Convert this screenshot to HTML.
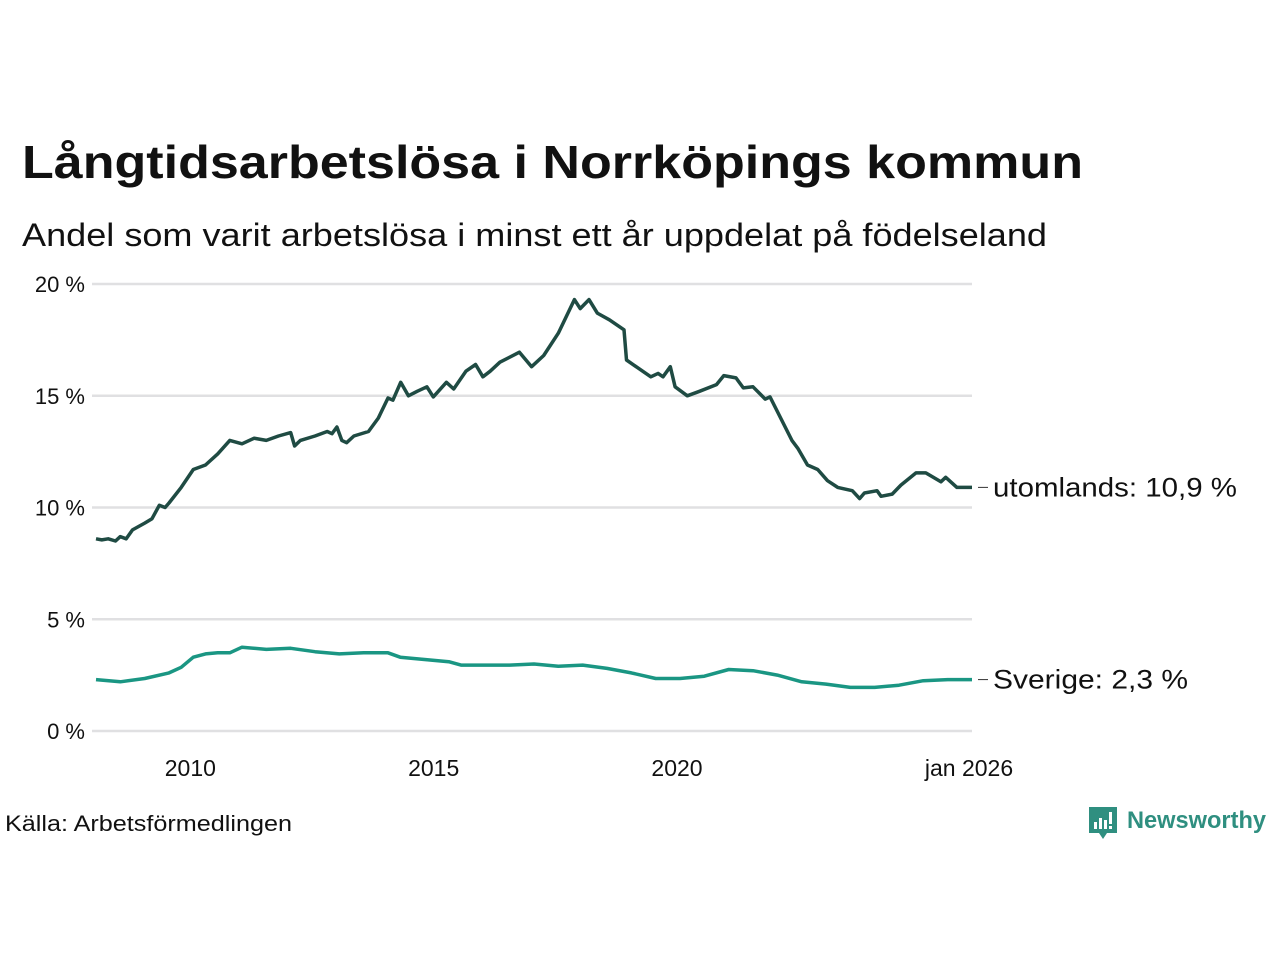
<!DOCTYPE html>
<html><head><meta charset="utf-8">
<style>
html,body{margin:0;padding:0;background:#fff;}
svg{display:block;font-family:"Liberation Sans","DejaVu Sans",sans-serif;}
</style></head>
<body>
<svg id="chart" width="1280" height="960" viewBox="0 0 1280 960" xmlns="http://www.w3.org/2000/svg">
<text x="22" y="178" font-size="46" font-weight="bold" fill="#111" textLength="1061" lengthAdjust="spacingAndGlyphs">Långtidsarbetslösa i Norrköpings kommun</text>
<text x="22" y="246" font-size="32" fill="#111" textLength="1025" lengthAdjust="spacingAndGlyphs">Andel som varit arbetslösa i minst ett år uppdelat på födelseland</text>
<g id="grid"></g>
<g id="series"></g>
<text x="5" y="831" font-size="22" fill="#111" textLength="287" lengthAdjust="spacingAndGlyphs">Källa: Arbetsförmedlingen</text>
<g>
<path d="M1089 807 h28 v26 h-10 l-4 6 l-4 -6 h-10 z" fill="#2f8f80"/>
<rect x="1094" y="822" width="3" height="7" fill="#fff"/>
<rect x="1099" y="818" width="3" height="11" fill="#fff"/>
<rect x="1104" y="820" width="3" height="9" fill="#fff"/>
<rect x="1109" y="812" width="3" height="12" fill="#fff"/>
<rect x="1109" y="826" width="3" height="3" fill="#fff"/>
<text x="1127" y="828" font-size="24" font-weight="bold" fill="#2f8f80" textLength="139" lengthAdjust="spacingAndGlyphs">Newsworthy</text>
</g>
</svg>
<script>
const yTicks = [0, 5, 10, 15, 20];
const yTickLabels = ["0 %", "5 %", "10 %", "15 %", "20 %"];
const xTicks = [2010, 2015, 2020, 2026];
const xTickLabels = ["2010", "2015", "2020", "jan 2026"];
const utDates = [2008.0,2008.12,2008.25,2008.4,2008.5,2008.62,2008.75,2009.0,2009.15,2009.3,2009.42,2009.5,2009.75,2010.0,2010.25,2010.5,2010.75,2011.0,2011.25,2011.5,2011.75,2012.0,2012.08,2012.2,2012.5,2012.75,2012.85,2012.95,2013.05,2013.15,2013.3,2013.6,2013.8,2014.0,2014.1,2014.26,2014.42,2014.6,2014.8,2014.93,2015.2,2015.35,2015.6,2015.8,2015.95,2016.1,2016.3,2016.7,2016.95,2017.2,2017.5,2017.83,2017.95,2018.13,2018.3,2018.55,2018.85,2018.9,2019.4,2019.55,2019.65,2019.8,2019.9,2020.15,2020.4,2020.75,2020.9,2021.15,2021.3,2021.5,2021.75,2021.85,2022.3,2022.42,2022.62,2022.83,2023.03,2023.24,2023.54,2023.69,2023.79,2024.05,2024.13,2024.36,2024.54,2024.85,2025.05,2025.36,2025.46,2025.69,2026.0];
const utValues = [8.6,8.55,8.6,8.5,8.7,8.6,9.0,9.3,9.5,10.1,10.0,10.2,10.9,11.7,11.9,12.4,13.0,12.85,13.1,13.0,13.2,13.35,12.75,13.0,13.2,13.4,13.3,13.6,13.0,12.9,13.2,13.4,14.0,14.9,14.8,15.6,15.0,15.2,15.4,14.95,15.6,15.3,16.1,16.4,15.85,16.1,16.5,16.95,16.3,16.8,17.8,19.3,18.9,19.3,18.7,18.4,17.95,16.6,15.85,16.0,15.85,16.3,15.4,15.0,15.2,15.5,15.9,15.8,15.35,15.4,14.85,14.95,13.0,12.65,11.9,11.7,11.2,10.9,10.75,10.4,10.65,10.75,10.5,10.6,11.0,11.55,11.55,11.15,11.35,10.9,10.9];
const svDates = [2008.0,2008.5,2009.0,2009.5,2009.75,2010.0,2010.25,2010.5,2010.75,2011.0,2011.5,2012.0,2012.5,2013.0,2013.5,2014.0,2014.25,2014.75,2015.25,2015.5,2016.0,2016.5,2017.0,2017.5,2018.0,2018.5,2019.0,2019.5,2020.0,2020.5,2021.0,2021.5,2022.0,2022.5,2023.0,2023.5,2024.0,2024.5,2025.0,2025.5,2026.0];
const svValues = [2.3,2.2,2.35,2.6,2.85,3.3,3.45,3.5,3.5,3.75,3.65,3.7,3.55,3.45,3.5,3.5,3.3,3.2,3.1,2.95,2.95,2.95,3.0,2.9,2.95,2.8,2.6,2.35,2.35,2.45,2.75,2.7,2.5,2.2,2.1,1.95,1.95,2.05,2.25,2.3,2.3];
const labelUt = "utomlands: 10,9 %";
const labelSv = "Sverige:  2,3 %";

const NS = "http://www.w3.org/2000/svg";
const x0 = 96, x1 = 972, d0 = 2008.0, d1 = 2026.0;
const yBase = 731, yTop = 284;
function xs(d){ return x0 + (d - d0) / (d1 - d0) * (x1 - x0); }
function ys(v){ return yBase - v / 20 * (yBase - yTop); }
function mk(tag, attrs, parent){ const e = document.createElementNS(NS, tag); for (const k in attrs) e.setAttribute(k, attrs[k]); parent.appendChild(e); return e; }

const grid = document.getElementById('grid');
yTicks.forEach((t, i) => {
  const l = mk('line', {x1: 92, x2: 972, y1: ys(t), y2: ys(t), stroke: '#e0e0e2', 'stroke-width': 2.5}, grid);
  
  
  const tx = mk('text', {x: 85, y: ys(t) + 8, 'text-anchor': 'end', 'font-size': 22, fill: '#111'}, grid);
  tx.textContent = yTickLabels[i];
  
  
});
xTicks.forEach((t, i) => {
  const tx = mk('text', {x: xs(t) - 3, y: 776, 'text-anchor': 'middle', 'font-size': 23, fill: '#111'}, grid);
  tx.textContent = xTickLabels[i];
  
  
});

const series = document.getElementById('series');
function drawLine(dates, vals, color, name, label, labelWidth){
  const pts = dates.map((d, i) => xs(d).toFixed(1) + ',' + ys(vals[i]).toFixed(1)).join(' ');
  const p = mk('polyline', {points: pts, fill: 'none', stroke: color, 'stroke-width': 3.5, 'stroke-linejoin': 'round'}, series);
  
  
  const last = vals[vals.length - 1];
  const ly = ys(last);
  const c = mk('line', {x1: xs(dates[dates.length-1]) + 6, x2: xs(dates[dates.length-1]) + 16, y1: ly, y2: ly, stroke: '#333', 'stroke-width': 1}, series);
  
  
  const t = mk('text', {x: xs(dates[dates.length-1]) + 21, y: ly + 9, 'font-size': 27, fill: '#111', 'xml:space': 'preserve', textLength: labelWidth, lengthAdjust: 'spacingAndGlyphs'}, series);
  t.textContent = label;
  
  
}
drawLine(svDates, svValues, '#1a9683', 'sverige', labelSv, 195);
drawLine(utDates, utValues, '#1f4b43', 'utomlands', labelUt, 244);
</script>
</body></html>
